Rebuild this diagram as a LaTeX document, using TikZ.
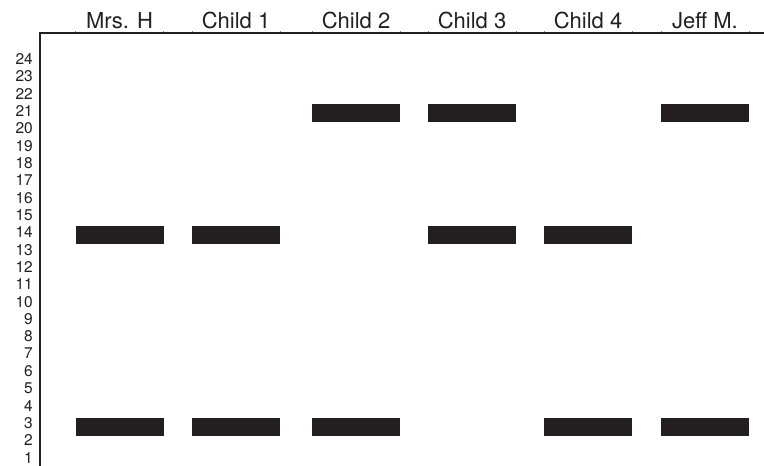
\documentclass[tikz,border=0pt]{standalone}
\usepackage{fontspec}
\setmainfont{TeX Gyre Heros}
\usetikzlibrary{positioning}

\definecolor{gelblack}{HTML}{231F20}

\tikzset{
  band/.style={fill=gelblack, minimum width=88pt, minimum height=17.7pt, inner sep=0pt},
  lanelabel/.style={font=\fontsize{22}{24}\selectfont, text=gelblack, anchor=base, inner sep=0pt},
  rownum/.style={font=\fontsize{15.5}{17}\selectfont, text=gelblack, anchor=east, inner sep=0pt},
}

\begin{document}
\begin{tikzpicture}[x=1pt, y=-1pt]
  \useasboundingbox (0,0) rectangle (764,466);

  % Lane labels
  \foreach \c/\n/\t in {119.5/mrs/Mrs. H, 236/ca/Child 1, 356/cb/Child 2,
                         472/cc/Child 3, 588/cd/Child 4, 705/jeff/Jeff M.} {
    \node[lanelabel] (lab-\n) at (\c, 28.3) {\t};
    % small marks at lane edges
    \draw[gray, line width=0.5pt] (\c-44, 33) -- ++(0,-2.5);
    \draw[gray, line width=0.5pt] (\c+44, 33) -- ++(0,-2.5);
  }

  % Frame
  \coordinate (corner) at (40,33);
  \draw[gelblack, line width=2pt] (40,466) -- (corner) -- (764,33);

  % Row numbers
  \foreach \r in {1,...,24}
    \node[rownum] (row\r) at (33, {59+(24-\r)*17.33}) {\r};

  % Bands
  \foreach \c/\n/\r in {119.5/mrs/14, 119.5/mrs/3,
                        236/ca/14, 236/ca/3,
                        356/cb/21, 356/cb/3,
                        472/cc/21, 472/cc/14,
                        588/cd/14, 588/cd/3,
                        705/jeff/21, 705/jeff/3}
    \node[band] (\n-\r) at (\c, {113+(21-\r)*17.44}) {};
\end{tikzpicture}
\end{document}
